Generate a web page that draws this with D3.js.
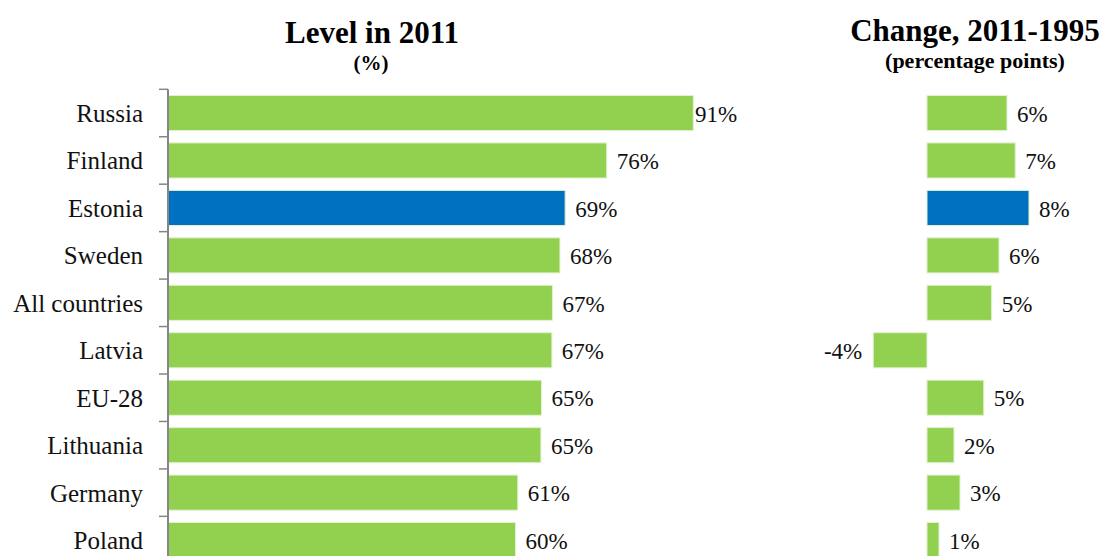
<!DOCTYPE html>
<html>
<head>
<meta charset="utf-8">
<script src="https://cdn.jsdelivr.net/npm/d3@7"></script>
<style>
    body { margin: 0; background: #fff; }
    svg { display: block; font-family: "Liberation Serif", "Times New Roman", serif; }
</style>
</head>
<body>
<svg id="drawing_region"></svg>
<script>
const countries = ['Russia', 'Finland', 'Estonia', 'Sweden', 'All countries', 'Latvia', 'EU-28', 'Lithuania', 'Germany', 'Poland'];
const level2011 = [91, 76, 68.8, 67.9, 66.6, 66.5, 64.7, 64.6, 60.6, 60.2];
const change = [6.4, 7.06, 8.16, 5.76, 5.17, -4.3, 4.54, 2.16, 2.64, 0.96];
const highlight = 'Estonia';

const data = countries.map( (c, i) => ({ country: c, level: level2011[i], change: change[i] }) );

class PairedBars {

    constructor( config, data ) {
        this.config = {
            parent: config.parent,
            width: config.width || 1105,
            height: config.height || 556,
        }
        this.data = data;
        this.init();
    }

    init() {
        let self = this;

        self.svg = d3.select( self.config.parent )
            .attr('width', self.config.width)
            .attr('height', self.config.height);

        // rows: 47.45px step starting at y=89.3
        self.yscale = d3.scaleBand()
            .range( [89.3, 89.3 + 47.45 * self.data.length] )
            .paddingInner(0.26)
            .paddingOuter(0.13);

        // left panel, zero at x=168
        self.xscale = d3.scaleLinear()
            .range( [168, 693.3] );

        // right panel, zero at x=927
        self.xscale2 = d3.scaleLinear()
            .range( [864.5, 1052] );
    }

    update() {
        let self = this;
        self.yscale.domain( self.data.map( d => d.country ) );
        self.xscale.domain( [0, 91] );
        self.xscale2.domain( [-5, 10] );
        self.render();
    }

    render() {
        let self = this;
        const fill = d => d.country == highlight ? '#0070C0' : '#92D050';
        const fmt = v => Math.round(v) + '%';

        // titles
        self.svg.append('text')
            .attr('x', 372).attr('y', 43)
            .attr('text-anchor', 'middle')
            .style('font-weight', 'bold').style('font-size', '31px')
            .text('Level in 2011');
        self.svg.append('text')
            .attr('x', 371).attr('y', 70)
            .attr('text-anchor', 'middle')
            .style('font-weight', 'bold').style('font-size', '21px')
            .text('(%)');
        self.svg.append('text')
            .attr('x', 975).attr('y', 41)
            .attr('text-anchor', 'middle')
            .style('font-weight', 'bold').style('font-size', '31px')
            .text('Change, 2011-1995');
        self.svg.append('text')
            .attr('x', 975).attr('y', 68)
            .attr('text-anchor', 'middle')
            .style('font-weight', 'bold').style('font-size', '22px')
            .text('(percentage points)');

        // left bars
        self.svg.selectAll('.lbar')
            .data(self.data)
            .join('rect')
            .attr('class', 'lbar')
            .attr('x', self.xscale(0))
            .attr('y', d => self.yscale(d.country))
            .attr('width', d => self.xscale(d.level) - self.xscale(0))
            .attr('height', self.yscale.bandwidth())
            .attr('fill', fill)
            .attr('stroke', '#e2f2d0')
            .attr('stroke-width', 1);

        self.svg.selectAll('.llabel')
            .data(self.data)
            .join('text')
            .attr('class', 'llabel')
            .attr('x', d => Math.min(self.xscale(d.level) + 10, 695))
            .attr('y', d => self.yscale(d.country) + self.yscale.bandwidth() / 2)
            .attr('dy', '0.38em')
            .style('font-size', '23px')
            .attr('fill', '#111')
            .text(d => fmt(d.level));

        // left axis
        const step = self.yscale.step();
        const off = (step - self.yscale.bandwidth()) / 2;
        const y0 = self.yscale.range()[0];
        const bounds = self.data.map( d => self.yscale(d.country) - off ).concat([y0 + step * self.data.length]);
        self.svg.append('line')
            .attr('x1', 168).attr('x2', 168)
            .attr('y1', y0).attr('y2', self.yscale.range()[1])
            .attr('stroke', '#868686').attr('stroke-width', 2);
        self.svg.selectAll('.tick')
            .data(bounds)
            .join('line')
            .attr('class', 'tick')
            .attr('x1', 159).attr('x2', 168)
            .attr('y1', d => d).attr('y2', d => d)
            .attr('stroke', '#868686').attr('stroke-width', 1.5);

        self.svg.selectAll('.cat')
            .data(self.data)
            .join('text')
            .attr('class', 'cat')
            .attr('x', 143)
            .attr('y', d => self.yscale(d.country) + self.yscale.bandwidth() / 2)
            .attr('dy', '0.36em')
            .attr('text-anchor', 'end')
            .style('font-size', '25px')
            .attr('fill', '#111')
            .text(d => d.country);

        // right bars
        self.svg.selectAll('.rbar')
            .data(self.data)
            .join('rect')
            .attr('class', 'rbar')
            .attr('x', d => self.xscale2(Math.min(0, d.change)))
            .attr('y', d => self.yscale(d.country))
            .attr('width', d => Math.abs(self.xscale2(d.change) - self.xscale2(0)))
            .attr('height', self.yscale.bandwidth())
            .attr('fill', fill)
            .attr('stroke', '#e2f2d0')
            .attr('stroke-width', 1);

        self.svg.selectAll('.rlabel')
            .data(self.data)
            .join('text')
            .attr('class', 'rlabel')
            .attr('x', d => d.change < 0 ? self.xscale2(d.change) - 11 : self.xscale2(d.change) + 10)
            .attr('y', d => self.yscale(d.country) + self.yscale.bandwidth() / 2)
            .attr('dy', '0.38em')
            .attr('text-anchor', d => d.change < 0 ? 'end' : 'start')
            .style('font-size', '23px')
            .attr('fill', '#111')
            .text(d => fmt(d.change));
    }
}

const chart = new PairedBars( { parent: '#drawing_region', width: 1105, height: 556 }, data );
chart.update();
</script>
</body>
</html>
